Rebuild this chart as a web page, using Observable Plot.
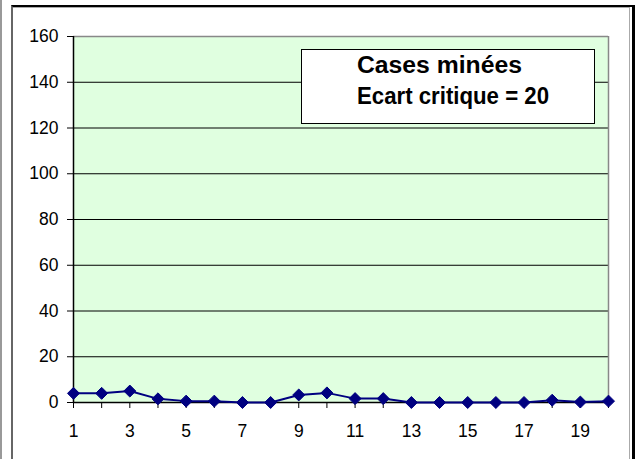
<!DOCTYPE html>
<html>
<head>
<meta charset="utf-8">
<script src="https://cdn.jsdelivr.net/npm/d3@7"></script>
<script src="https://cdn.jsdelivr.net/npm/@observablehq/plot@0.6"></script>
<style>
  html, body { margin: 0; padding: 0; background: #fff; }
  #wrap { position: relative; width: 637px; height: 459px; overflow: hidden; font-family: "Liberation Sans", Arial, sans-serif; }
  #frame { position: absolute; left: 11px; top: 5px; width: 619px; height: 470px;
           border-left: 2px solid #666; border-top: 2px solid #000; border-right: 3px solid #000; }
  #frameInner { position: absolute; left: 13px; top: 7px; width: 616px; height: 470px;
           border-top: 1px solid #aaa; border-right: 1px solid #aaa; }
  #edge { position: absolute; left: 0; top: 0; width: 2px; height: 459px; background: #999; }
  #legend { position: absolute; left: 301px; top: 49px; width: 292px; height: 73px;
            background: #fff; border: 1px solid #000; font-weight: bold; font-size: 23.5px; color: #000; }
  #legend div { position: absolute; left: 55px; white-space: nowrap; transform-origin: 0 0; line-height: 1; }
  svg { position: absolute; left: 0; top: 0; }
</style>
</head>
<body>
<div id="wrap">
  <div id="edge"></div>
  <div id="frame"></div>
  <div id="frameInner"></div>
</div>
<script>
const rounds = d3.range(1, 21);
const minedCells = [4, 4, 5, 1.6, 0.6, 0.6, 0, 0, 3.3, 4.2, 1.7, 1.7, 0, 0, 0, 0, 0, 1, 0.2, 0.6];
const yTicks = [0, 20, 40, 60, 80, 100, 120, 140, 160];
const titleLines = ["Cases minées", "Ecart critique = 20"];

const data = rounds.map((r, i) => ({round: r, value: minedCells[i]}));

const chart = Plot.plot({
  width: 637,
  height: 459,
  marginLeft: 73,
  marginTop: 36,
  marginRight: 29,
  marginBottom: 57,
  style: {fontFamily: "'Liberation Sans', Arial, sans-serif", fontSize: "17.5px", color: "#000", background: "transparent", overflow: "visible"},
  x: {type: "linear", domain: [1, 20]},
  y: {domain: [0, 160]},
  marks: [
    Plot.frame({fill: "#e0ffe0", stroke: null}),
    Plot.gridY(yTicks.filter(d => d > 0 && d < 160), {stroke: "#000", strokeOpacity: 1, strokeWidth: 1}),
    Plot.ruleY([160], {stroke: "#888", strokeWidth: 1.5}),
    Plot.ruleX([20], {stroke: "#888", strokeWidth: 1.5}),
    Plot.ruleY([0], {stroke: "#000", strokeWidth: 1.5}),
    Plot.ruleX([1], {stroke: "#000", strokeWidth: 1.5}),
    Plot.axisY({ticks: yTicks, tickSize: 6, tickPadding: 9, stroke: "#000", fill: "#000", label: null}),
    Plot.axisX({ticks: rounds, tickSize: 6, tickPadding: 16, tickFormat: d => d % 2 ? String(d) : "", stroke: "#000", fill: "#000", label: null}),
    Plot.line(data, {x: "round", y: "value", stroke: "#000080", strokeWidth: 2}),
    Plot.dot(data, {x: "round", y: "value", symbol: "diamond2", r: 5.4, fill: "#000080", stroke: "#000080", strokeWidth: 1})
  ]
});

d3.select(chart).selectAll("text").style("font-size", "17.5px").style("font-family", "'Liberation Sans', Arial, sans-serif");

const wrap = document.getElementById("wrap");
wrap.appendChild(chart);

const legend = document.createElement("div");
legend.id = "legend";
wrap.appendChild(legend);
const targetWidths = [165, 192];
titleLines.forEach((t, i) => {
  const line = document.createElement("div");
  line.textContent = t;
  line.style.top = (i === 0 ? 4 : 35) + "px";
  legend.appendChild(line);
  const w = line.getBoundingClientRect().width;
  if (w > 0) line.style.transform = `scaleX(${targetWidths[i] / w})`;
});
</script>
</body>
</html>
